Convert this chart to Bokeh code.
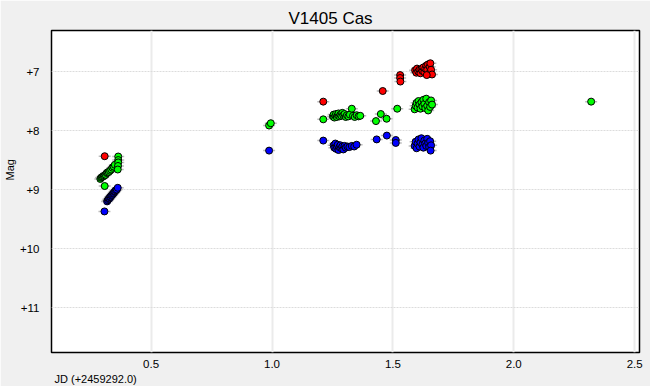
from bokeh.plotting import figure
from bokeh.models import Range1d, FixedTicker, ColumnDataSource, Title, NumeralTickFormatter
from bokeh.embed import file_html
from bokeh.resources import INLINE

title_text = "V1405 Cas"
x_label = "JD (+2459292.0)"
y_label = "Mag"
x_ticks = [0.5, 1.0, 1.5, 2.0, 2.5]
y_ticks = [7, 8, 9, 10, 11]
y_tick_labels = ["+7", "+8", "+9", "+10", "+11"]

red_x = [0.308, 1.212, 1.458, 1.530, 1.530, 1.531,
         1.592, 1.597, 1.600, 1.605, 1.610, 1.614, 1.618, 1.622, 1.626, 1.630,
         1.634, 1.638, 1.642, 1.645, 1.648, 1.652, 1.655, 1.658, 1.662, 1.640]
red_y = [8.435, 7.51, 7.33, 7.06, 7.11, 7.17,
         6.98, 7.02, 6.95, 7.00, 6.97, 7.03, 6.96, 6.99, 6.93, 7.01,
         6.95, 6.90, 6.97, 6.88, 7.04, 6.92, 6.86, 6.97, 7.05, 7.06]

green_x = [0.290, 0.293, 0.296, 0.300, 0.304, 0.308, 0.312, 0.316, 0.320, 0.325,
           0.330, 0.335, 0.340, 0.345, 0.350,
           0.364, 0.364, 0.364, 0.363, 0.362, 0.308,
           0.988, 0.995, 1.212,
           1.252, 1.255, 1.258, 1.262, 1.265, 1.268, 1.272, 1.275, 1.279, 1.283,
           1.287, 1.291, 1.295, 1.300, 1.305, 1.310, 1.316, 1.322, 1.330, 1.335,
           1.342, 1.350, 1.358, 1.365,
           1.430, 1.450, 1.474, 1.518,
           1.590, 1.594, 1.598, 1.602, 1.606, 1.610, 1.614, 1.618, 1.622, 1.626,
           1.630, 1.634, 1.638, 1.642, 1.646, 1.650, 1.654, 1.658, 1.662,
           2.320]
green_y = [8.82, 8.80, 8.79, 8.78, 8.77, 8.76, 8.75, 8.72, 8.71, 8.70,
           8.68, 8.66, 8.63, 8.61, 8.58,
           8.44, 8.50, 8.54, 8.60, 8.66, 8.94,
           7.915, 7.876, 7.81,
           7.76, 7.73, 7.78, 7.75, 7.72, 7.77, 7.74, 7.71, 7.76, 7.73,
           7.75, 7.70, 7.74, 7.72, 7.77, 7.74, 7.76, 7.73, 7.63, 7.75,
           7.77, 7.74, 7.76, 7.75,
           7.84, 7.72, 7.80, 7.63,
           7.64, 7.58, 7.53, 7.61, 7.50, 7.56, 7.63, 7.52, 7.59, 7.48,
           7.55, 7.62, 7.46, 7.58, 7.66, 7.52, 7.60, 7.49, 7.56,
           7.51]

blue_x = [0.307,
          0.318, 0.321, 0.324, 0.327, 0.330, 0.333, 0.336, 0.339, 0.342, 0.345,
          0.348, 0.351, 0.354, 0.358, 0.362,
          0.988, 1.212,
          1.255, 1.258, 1.262, 1.265, 1.268, 1.272, 1.275, 1.279, 1.283, 1.287,
          1.291, 1.295, 1.300, 1.305, 1.312, 1.320, 1.330, 1.340, 1.350,
          1.433, 1.475, 1.512, 1.512,
          1.590, 1.594, 1.598, 1.602, 1.606, 1.610, 1.614, 1.618, 1.622, 1.626,
          1.630, 1.634, 1.638, 1.642, 1.646, 1.650, 1.654, 1.658, 1.656]
blue_y = [9.37,
          9.20, 9.18, 9.16, 9.15, 9.13, 9.12, 9.10, 9.09, 9.07, 9.06,
          9.04, 9.03, 9.01, 9.00, 8.97,
          8.34, 8.17,
          8.25, 8.29, 8.22, 8.31, 8.27, 8.24, 8.33, 8.28, 8.25, 8.30,
          8.27, 8.32, 8.26, 8.29, 8.27, 8.28, 8.26, 8.27, 8.24,
          8.15, 8.085, 8.16, 8.21,
          8.26, 8.19, 8.30, 8.22, 8.15, 8.27, 8.20, 8.13, 8.24, 8.29,
          8.17, 8.22, 8.26, 8.14, 8.21, 8.28, 8.18, 8.25, 8.34]

FONT = "Liberation Sans"
BG = "#f0f0f0"

p = figure(width=650, height=386, output_backend="svg", toolbar_location=None,
           x_range=Range1d(0.088, 2.52), y_range=Range1d(11.76, 6.305),
           min_border_left=49, min_border_right=11, min_border_top=30,
           min_border_bottom=34)
p.background_fill_color = "white"
p.border_fill_color = BG
p.outline_line_color = "black"
p.outline_line_width = 1.5

p.xaxis.ticker = FixedTicker(ticks=x_ticks)
p.xaxis.formatter = NumeralTickFormatter(format="0.0")
p.yaxis.ticker = FixedTicker(ticks=y_ticks)
p.yaxis.major_label_overrides = {t: l for t, l in zip(y_ticks, y_tick_labels)}
for ax in (p.xaxis, p.yaxis):
    ax.axis_line_color = None
    ax.major_tick_line_color = None
    ax.minor_tick_line_color = None
    ax.major_label_text_font = FONT
    ax.major_label_text_font_size = "11.5px"
    ax.major_label_text_color = "black"
p.xaxis.major_label_standoff = 1
p.yaxis.major_label_standoff = 6

p.xgrid.grid_line_color = "#ebebeb"
p.xgrid.grid_line_width = 2
p.ygrid.grid_line_color = "#dcdcdc"
p.ygrid.grid_line_width = 1
p.ygrid.grid_line_dash = "2 1"

series = ((red_x, red_y, "#ff0000"), (green_x, green_y, "#00ff00"),
          (blue_x, blue_y, "#0000ff"))
for xs, ys, col in series:
    src = ColumnDataSource(dict(x=xs, y=ys))
    p.scatter("x", "y", source=src, marker="dash", size=12, line_color="#bdbdbd",
              line_width=1.5)
for xs, ys, col in series:
    src = ColumnDataSource(dict(x=xs, y=ys))
    p.scatter("x", "y", source=src, marker="circle", size=7, fill_color=col,
              line_color="black", line_width=1)

p.title.text = title_text
p.title.align = "left"
p.title.offset = 237
p.title.text_font = FONT
p.title.text_font_size = "17px"
p.title.text_font_style = "normal"
p.title.text_color = "black"
p.title.standoff = 6

p.add_layout(Title(text=x_label, align="left", offset=3, text_font=FONT,
                   text_font_size="11px", text_font_style="normal",
                   text_color="black", standoff=0), "below")
p.add_layout(Title(text=y_label, align="left", offset=172, text_font=FONT,
                   text_font_size="11px", text_font_style="normal",
                   text_color="black", standoff=2), "left")

open("out.html", "w").write(file_html(p, INLINE))
